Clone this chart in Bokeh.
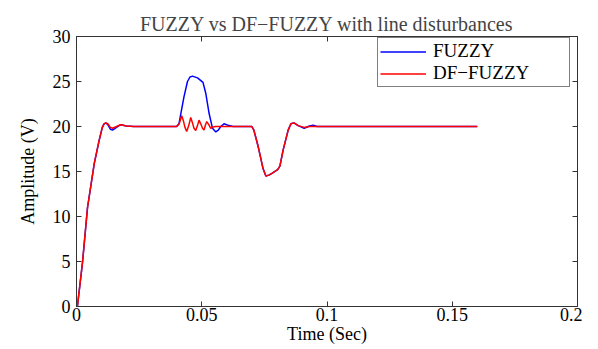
from bokeh.plotting import figure
from bokeh.models import (FixedTicker, NumeralTickFormatter, LinearAxis, CustomJSTickFormatter,
                          Range1d, Legend, LegendItem)
from bokeh.embed import file_html
from bokeh.resources import INLINE

# ---- data ----
t_fuzzy = [0.0, 0.0004, 0.0024, 0.0044, 0.0071, 0.009, 0.0103, 0.0110, 0.0117, 0.0125, 0.0135,
           0.0144, 0.016, 0.0176, 0.020, 0.0229, 0.040, 0.0409, 0.0419, 0.0429, 0.0443, 0.0453,
           0.0463, 0.0483, 0.0505, 0.0516, 0.0529, 0.0543, 0.0556, 0.0566, 0.0576, 0.0589,
           0.0609, 0.0625, 0.070, 0.0708, 0.0725, 0.0745, 0.0756, 0.0768, 0.078, 0.0803, 0.0812,
           0.0825, 0.0845, 0.0856, 0.0868, 0.0885, 0.0909, 0.093, 0.0945, 0.096, 0.160]
y_fuzzy = [0.0, 0.1, 4.9, 11.0, 15.9, 18.4, 19.9, 20.3, 20.4, 20.2, 19.7,
           19.6, 19.9, 20.2, 20.05, 20.0, 20.0, 20.3, 21.8, 23.3, 25.0, 25.5,
           25.6, 25.4, 24.9, 23.7, 21.5, 19.8, 19.4, 19.6, 20.0, 20.3,
           20.1, 20.0, 20.0, 19.6, 17.8, 15.3, 14.5, 14.6, 14.8, 15.2, 15.6,
           17.4, 19.6, 20.3, 20.4, 20.1, 19.8, 20.05, 20.15, 20.0, 20.0]

t_df = [0.0, 0.0004, 0.0024, 0.0044, 0.0071, 0.009, 0.0103, 0.0110, 0.0117, 0.0125, 0.0135,
        0.0144, 0.016, 0.0176, 0.020, 0.0229, 0.0400, 0.0410, 0.0420, 0.0427, 0.0433, 0.0440,
        0.0448, 0.0456, 0.0463, 0.0469, 0.0476, 0.0483, 0.0489, 0.0496, 0.0503, 0.0509,
        0.0515, 0.0520, 0.0528, 0.0536, 0.0545, 0.0555, 0.070, 0.0708, 0.0725, 0.0745,
        0.0756, 0.0768, 0.078, 0.0803, 0.0812, 0.0825, 0.0845, 0.0856, 0.0868, 0.0885,
        0.0909, 0.093, 0.160]
y_df = [0.0, 0.1, 4.9, 11.0, 15.9, 18.4, 19.9, 20.3, 20.4, 20.3, 19.9,
        19.8, 20.0, 20.2, 20.05, 20.0, 20.0, 20.3, 21.2, 20.6, 19.9, 19.45,
        20.1, 21.0, 20.4, 19.8, 19.55, 20.1, 20.7, 20.3, 19.8, 19.6,
        20.2, 20.55, 20.2, 19.8, 19.95, 20.0, 20.0, 19.6, 17.8, 15.3,
        14.5, 14.6, 14.8, 15.2, 15.6, 17.4, 19.6, 20.3, 20.4, 20.1,
        19.9, 20.0, 20.0]

x_ticks = [0, 0.05, 0.1, 0.15, 0.2]
y_ticks = [0, 5, 10, 15, 20, 25, 30]
series_names = ["FUZZY", "DF\u2212FUZZY"]

FONT = "Liberation Serif"
AX = "#333333"

p = figure(width=582, height=347, output_backend="svg", toolbar_location=None,
           x_range=Range1d(0, 0.2), y_range=Range1d(0, 30),
           title="FUZZY vs DF\u2212FUZZY with line disturbances",
           x_axis_label="Time (Sec)", y_axis_label="Amplitude (V)",
           min_border_left=76, min_border_right=5, min_border_top=36, min_border_bottom=41)
p.grid.visible = False
p.outline_line_color = AX
p.outline_line_width = 1
p.background_fill_color = "white"
p.border_fill_color = "white"

p.title.text_font = FONT
p.title.text_font_size = "20px"
p.title.text_font_style = "normal"
p.title.align = "center"
p.title.offset = 0
p.title.standoff = 4

for ax in (p.xaxis[0], p.yaxis[0]):
    ax.axis_line_color = AX
    ax.major_tick_line_color = AX
    ax.major_tick_in = 5
    ax.major_tick_out = 0
    ax.minor_tick_line_color = None
    ax.major_label_text_font = FONT
    ax.major_label_text_font_size = "18px"
    ax.major_label_text_color = "black"
    ax.axis_label_text_font = FONT
    ax.axis_label_text_font_size = "18px"
    ax.axis_label_text_font_style = "normal"
    ax.axis_label_text_color = "black"

p.xaxis[0].ticker = FixedTicker(ticks=x_ticks)
p.xaxis[0].formatter = NumeralTickFormatter(format="0.[00]")
p.xaxis[0].major_label_standoff = 1
p.xaxis[0].axis_label_standoff = 0
p.yaxis[0].ticker = FixedTicker(ticks=y_ticks)
p.yaxis[0].major_label_standoff = 6
p.yaxis[0].axis_label_standoff = 12

blank = CustomJSTickFormatter(code="return ''")
top = LinearAxis(ticker=FixedTicker(ticks=x_ticks), formatter=blank, major_tick_in=5,
                 major_tick_out=0, minor_tick_line_color=None, axis_line_color=AX,
                 major_tick_line_color=AX, major_label_standoff=0,
                 major_label_text_font_size="1px")
right = LinearAxis(ticker=FixedTicker(ticks=y_ticks), formatter=blank, major_tick_in=5,
                   major_tick_out=0, minor_tick_line_color=None, axis_line_color=AX,
                   major_tick_line_color=AX, major_label_standoff=0,
                   major_label_text_font_size="1px")
p.add_layout(top, "above")
p.add_layout(right, "right")

r1 = p.line(t_fuzzy, y_fuzzy, line_color="#0000ff", line_width=1.5)
r2 = p.line(t_df, y_df, line_color="#ff0000", line_width=1.5)

legend = Legend(items=[LegendItem(label=series_names[0], renderers=[r1]),
                       LegendItem(label=series_names[1], renderers=[r2])],
                location=(301, 219))
legend.label_text_font = FONT
legend.label_text_font_size = "19px"
legend.label_text_color = "black"
legend.glyph_width = 46
legend.glyph_height = 19
legend.label_height = 19
legend.label_width = 134
legend.label_standoff = 7
legend.spacing = 0
legend.padding = 2
legend.margin = 0
legend.border_line_color = "black"
legend.border_line_width = 1
legend.background_fill_alpha = 1
p.add_layout(legend)

open("out.html", "w").write(file_html(p, INLINE))
